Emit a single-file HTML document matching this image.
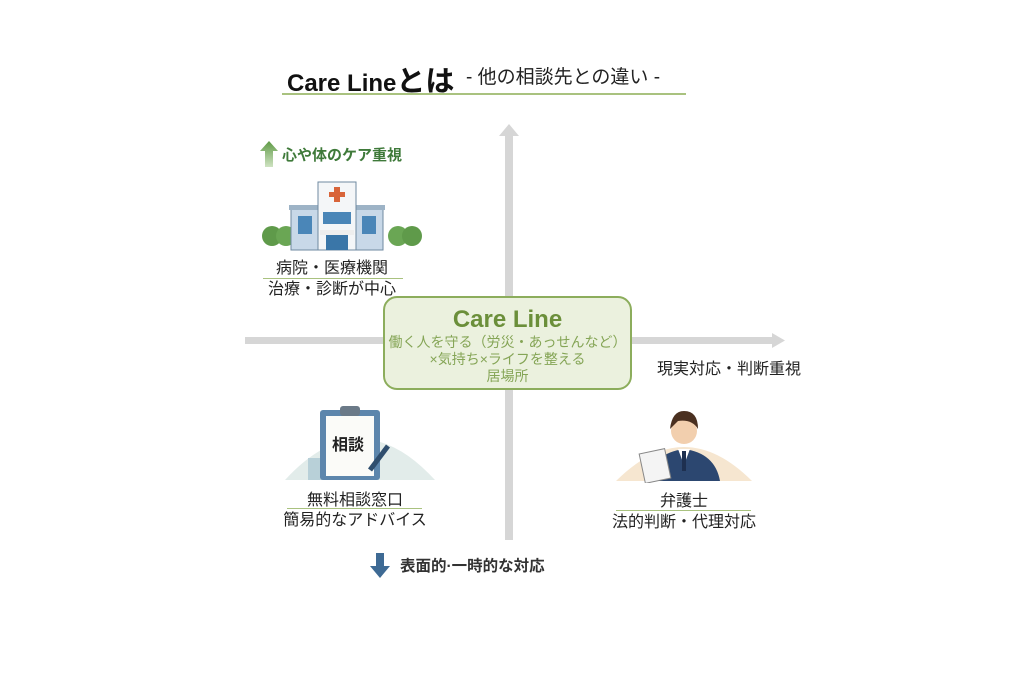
<!DOCTYPE html>
<html><head><meta charset="utf-8"><style>
body{margin:0;width:1024px;height:683px;background:#fff;position:relative;overflow:hidden;font-family:"Liberation Sans","Noto Sans CJK JP",sans-serif;color:#222}
.a{position:absolute;white-space:nowrap;line-height:18px}
.c{text-align:center}
</style></head><body>
<div class="a" style="left:287px;top:67px;font-size:24px;line-height:30px;font-weight:bold;color:#111">Care Line<span style="font-size:29px">とは</span></div>
<div class="a" style="left:466px;top:66px;font-size:19px;line-height:24px;color:#222">- 他の相談先との違い -</div>
<div class="a" style="left:282px;top:93px;width:404px;height:2px;background:#a9c27f"></div>

<!-- axes -->
<div class="a" style="left:505px;top:135px;width:8px;height:405px;background:#d6d6d6"></div>
<svg class="a" style="left:499px;top:124px" width="20" height="12"><polygon points="10,0 20,12 0,12" fill="#d6d6d6"/></svg>
<div class="a" style="left:245px;top:337px;width:528px;height:7px;background:#d6d6d6"></div>
<svg class="a" style="left:772px;top:333px" width="13" height="15"><polygon points="0,0 13,7.5 0,15" fill="#d6d6d6"/></svg>

<!-- top label -->
<svg class="a" style="left:260px;top:141px" width="18" height="26"><defs><linearGradient id="g" x1="0" y1="0" x2="0" y2="1"><stop offset="0" stop-color="#5e9a45"/><stop offset="1" stop-color="#cfe3c2"/></linearGradient></defs><polygon points="9,0 18,10 13,10 13,26 5,26 5,10 0,10" fill="url(#g)"/></svg>
<div class="a" style="left:282px;top:147px;font-size:15px;font-weight:bold;color:#3f7a3a">心や体のケア重視</div>

<!-- hospital -->
<svg class="a" style="left:258px;top:178px" width="172" height="75">
<circle cx="14" cy="58" r="10" fill="#5f9a4a"/><circle cx="28" cy="58" r="10" fill="#6aa654"/>
<circle cx="140" cy="58" r="10" fill="#6aa654"/><circle cx="154" cy="58" r="10" fill="#5f9a4a"/>
<rect x="33" y="30" width="92" height="42" fill="#c8d8e8" stroke="#6f8aa0"/>
<rect x="31" y="27" width="96" height="5" fill="#9db3c6"/>
<rect x="60" y="4" width="38" height="68" fill="#f4f6f8" stroke="#6f8aa0"/>
<rect x="76" y="9" width="6" height="15" fill="#d8643a"/><rect x="71" y="14" width="16" height="5" fill="#d8643a"/>
<rect x="65" y="34" width="28" height="12" fill="#4a86b8"/>
<rect x="40" y="38" width="14" height="18" fill="#4a86b8"/><rect x="104" y="38" width="14" height="18" fill="#4a86b8"/>
<rect x="62" y="52" width="34" height="5" fill="#eee"/>
<rect x="68" y="57" width="22" height="15" fill="#3a76a8"/>
</svg>
<div class="a c" style="left:232px;top:260px;width:200px;font-size:16px">病院・医療機関</div>
<div class="a" style="left:263px;top:278px;width:140px;height:1px;background:#a9c27f"></div>
<div class="a c" style="left:232px;top:281px;width:200px;font-size:16px">治療・診断が中心</div>

<!-- center box -->
<div class="a c" style="left:383px;top:296px;width:245px;height:90px;border:2px solid #8cad5c;border-radius:14px;background:#ebf1de"></div>
<div class="a c" style="left:383px;top:306px;width:249px;font-size:24px;line-height:28px;font-weight:bold;color:#6b8f3a">Care Line</div>
<div class="a c" style="left:383px;top:334px;width:249px;font-size:14px;line-height:17px;color:#85a556">働く人を守る（労災・あっせんなど）<br>×気持ち×ライフを整える<br>居場所</div>

<div class="a" style="left:657px;top:361px;font-size:16px">現実対応・判断重視</div>

<!-- clipboard -->
<svg class="a" style="left:280px;top:398px" width="160" height="85">
<path d="M5,82 Q80,0 155,82 Z" fill="#e2ecea"/>
<rect x="28" y="60" width="20" height="22" fill="#b8d0d8"/>
<rect x="40" y="12" width="60" height="70" rx="3" fill="#5d86ac"/>
<rect x="46" y="18" width="48" height="60" fill="#fbfbf8"/>
<rect x="60" y="8" width="20" height="10" rx="3" fill="#6b7a88"/>
<text x="52" y="52" font-size="16" font-weight="bold" fill="#222" font-family="Noto Sans CJK JP,sans-serif">相談</text>
<line x1="90" y1="72" x2="108" y2="48" stroke="#2f4e6e" stroke-width="5"/>
</svg>
<div class="a c" style="left:255px;top:492px;width:200px;font-size:16px">無料相談窓口</div>
<div class="a" style="left:287px;top:508px;width:135px;height:1px;background:#a9c27f"></div>
<div class="a c" style="left:255px;top:512px;width:200px;font-size:16px">簡易的なアドバイス</div>

<!-- lawyer -->
<svg class="a" style="left:608px;top:403px" width="152" height="80">
<path d="M8,78 Q76,10 144,78 Z" fill="#f6e6d0"/>
<path d="M40,78 Q45,50 76,46 Q107,50 112,78 Z" fill="#2c4770"/>
<polygon points="70,46 82,46 76,62" fill="#fff"/>
<rect x="74" y="48" width="4" height="20" fill="#1e3050"/>
<circle cx="76" cy="28" r="13" fill="#f2cfae"/>
<path d="M62,26 Q64,8 76,8 Q90,8 90,26 Q84,16 70,18 Z" fill="#4a3020"/>
<rect x="34" y="48" width="26" height="30" fill="#f4f4f4" stroke="#888" transform="rotate(-12 47 63)"/>
</svg>
<div class="a c" style="left:584px;top:493px;width:200px;font-size:16px">弁護士</div>
<div class="a" style="left:616px;top:510px;width:135px;height:1px;background:#a9c27f"></div>
<div class="a c" style="left:584px;top:514px;width:200px;font-size:16px">法的判断・代理対応</div>

<!-- bottom label -->
<svg class="a" style="left:370px;top:553px" width="20" height="25"><polygon points="6,0 14,0 14,13 20,13 10,25 0,13 6,13" fill="#3e6a94"/></svg>
<div class="a" style="left:400px;top:558px;font-size:15.5px;font-weight:bold;color:#333">表面的·一時的な対応</div>
</body></html>
